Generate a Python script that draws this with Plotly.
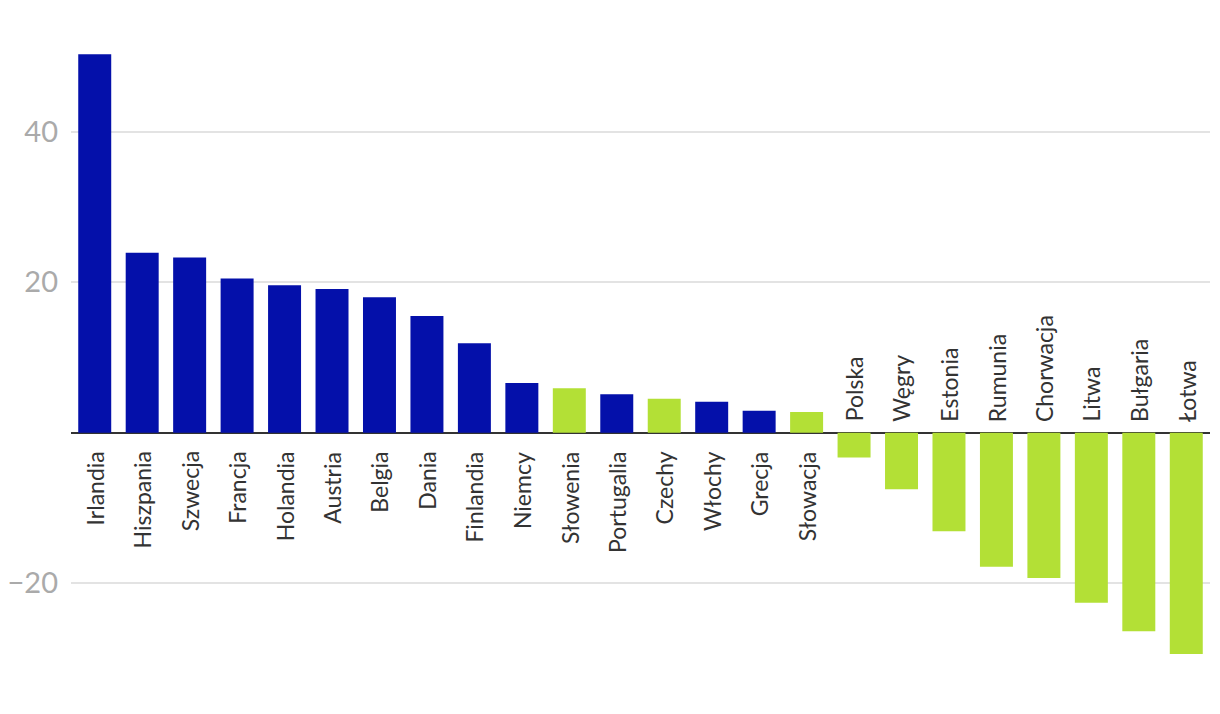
import plotly.graph_objects as go

countries = ["Irlandia", "Hiszpania", "Szwecja", "Francja", "Holandia", "Austria", "Belgia",
             "Dania", "Finlandia", "Niemcy", "Słowenia", "Portugalia", "Czechy", "Włochy",
             "Grecja", "Słowacja", "Polska", "Węgry", "Estonia", "Rumunia", "Chorwacja",
             "Litwa", "Bułgaria", "Łotwa"]
values = [50.3, 23.9, 23.3, 20.5, 19.6, 19.1, 18.0, 15.5, 11.9, 6.6, 5.9, 5.1, 4.5, 4.1,
          2.9, 2.75, -3.3, -7.5, -13.1, -17.8, -19.3, -22.6, -26.4, -29.4]
group = ["old", "old", "old", "old", "old", "old", "old", "old", "old", "old", "new", "old",
         "new", "old", "old", "new", "new", "new", "new", "new", "new", "new", "new", "new"]
y_ticks = [-20, 20, 40]

BLUE = "#0410AA"
GREEN = "#B3E036"
colors = [BLUE if g == "old" else GREEN for g in group]

fig = go.Figure(go.Bar(x=countries, y=values, marker=dict(color=colors, line=dict(width=0)),
                       hoverinfo="x+y"))

annotations = []
for c, v in zip(countries, values):
    if v >= 0:
        annotations.append(dict(x=c, y=0, text=c, textangle=-90, showarrow=False,
                                xanchor="center", yanchor="top", yshift=-17,
                                font=dict(family="Lato", size=23, color="#333333")))
    else:
        annotations.append(dict(x=c, y=0, text=c, textangle=-90, showarrow=False,
                                xanchor="center", yanchor="bottom", yshift=9,
                                font=dict(family="Lato", size=23, color="#333333")))

fig.update_layout(
    width=1220, height=714,
    margin=dict(l=63, r=18, t=32, b=48, autoexpand=False),
    plot_bgcolor="white", paper_bgcolor="white",
    bargap=0.305,
    showlegend=False,
    annotations=annotations,
    font=dict(family="Lato"),
    xaxis=dict(showticklabels=False, showgrid=False, showline=False, ticks="",
               range=[-0.5, len(countries) - 0.5], automargin=False),
    yaxis=dict(range=[-32.07, 52.19], tickvals=y_ticks,
               ticktext=[str(t).replace("-", "\u2212") for t in y_ticks],
               showgrid=True, gridcolor="#e3e3e3", gridwidth=1.5,
               zeroline=True, zerolinecolor="#333333", zerolinewidth=2,
               tickfont=dict(family="Lato", size=29, color="#aaaaaa"),
               ticks="", showline=False, ticklabelstandoff=12, automargin=False),
)

fig.write_html("out.html")
